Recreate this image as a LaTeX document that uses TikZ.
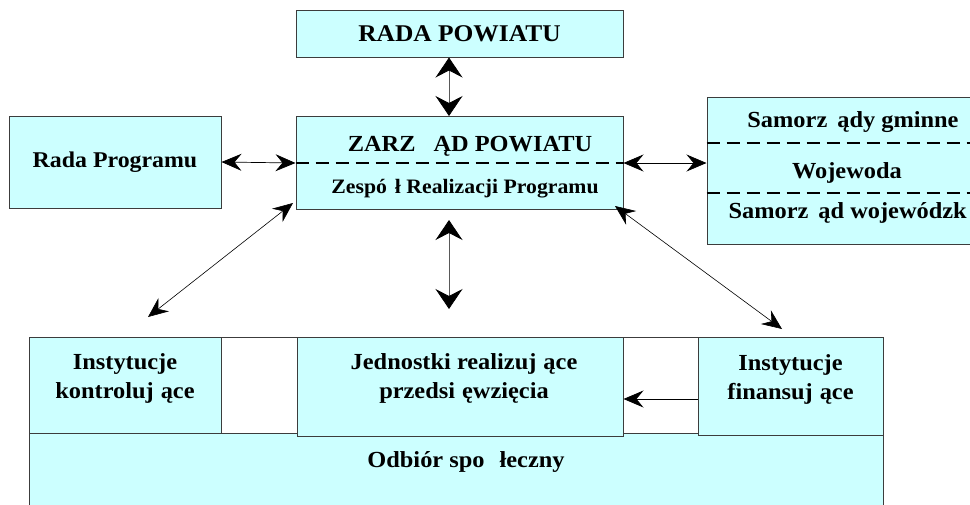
\documentclass[tikz,border=0pt]{standalone}
\usepackage{fontspec}
\setmainfont{Liberation Serif}[FakeStretch=1.06]
\usetikzlibrary{arrows.meta,positioning}
\definecolor{boxcyan}{RGB}{204,255,255}
\definecolor{boxedge}{RGB}{60,60,60}
\tikzset{
  box/.style={draw=boxedge, fill=boxcyan, line width=1pt, inner sep=0pt},
  boxtext/.style={font=\fontsize{23}{29}\selectfont\bfseries, align=center, inner sep=0pt},
  dashline/.style={line width=1.6pt, dash pattern=on 13pt off 7pt},
  arr/.style={line width=0.7pt, {Stealth[length=20pt,width=17pt,inset=7pt]}-{Stealth[length=20pt,width=17pt,inset=7pt]}},
  bigarr/.style={line width=0.8pt, draw=gray!70!black, {Stealth[length=20pt,width=27pt,inset=7pt,color=black]}-{Stealth[length=20pt,width=27pt,inset=7pt,color=black]}}
}
\begin{document}
\begin{tikzpicture}[x=1pt, y=-1pt]
	\clip (0,0) rectangle (970,504);
	% top row
	\node[box, minimum width=327pt, minimum height=47pt](rada) at (459.5,33.5){};
	\node[boxtext, font=\fontsize{24}{29}\selectfont\bfseries] at (rada.center){RADA POWIATU};
	\node[box, minimum width=327pt, minimum height=93pt](zarzad) at (459.5,163){};
	\node[boxtext, anchor=base] at (470,151){ZARZ\hspace{18pt}ĄD POWIATU};
	\node[boxtext, anchor=base, font=\fontsize{20.5}{24}\selectfont\bfseries] at (465,193){Zespó\hspace{8pt}ł Realizacji Programu};
	\draw[dashline](zarzad.west) -- (zarzad.east);
	\node[box, minimum width=212pt, minimum height=92pt](program) at (115,162){};
	\node[boxtext, font=\fontsize{22.5}{29}\selectfont\bfseries] at (program.center){Rada Programu};
	\node[box, minimum width=286pt, minimum height=147pt](samorzady) at (850,170.5){};
	\node[boxtext, anchor=base] at (853,127){Samorz\hspace{10pt}ądy gminne};
	\node[boxtext, anchor=base] at (847,178){Wojewoda};
	\node[boxtext, anchor=base east] at (967,218){Samorz\hspace{10pt}ąd wojewódzk};
	\draw[dashline](samorzady.west |- 0,143) -- (samorzady.east |- 0,143);
	\draw[dashline](samorzady.west |- 0,193) -- (samorzady.east |- 0,193);
	% bottom row
	\node[box, fill=white, minimum width=854pt, minimum height=96pt](frame) at (456,385){};
	\node[box, minimum width=854pt, minimum height=87pt](odbior) at (456,476.5){};
	\node[boxtext, anchor=base] at (466,467){Odbiór spo\hspace{15pt}łeczny};
	\node[box, minimum width=192pt, minimum height=96pt](kontrola) at (125,385){};
	\node[boxtext] at ([yshift=7pt]kontrola.center){Instytucje\\kontroluj\hspace{7pt}ące};
	\node[box, minimum width=326pt, minimum height=99pt](jednostki) at (460,386.5){};
	\node[boxtext] at ([xshift=4pt,yshift=8pt]jednostki.center){Jednostki realizuj\hspace{7pt}ące\\przedsi\hspace{7pt}ęwzięcia};
	\node[box, minimum width=185pt, minimum height=98pt](finanse) at (790.5,386){};
	\node[boxtext] at ([yshift=7pt]finanse.center){Instytucje\\finansuj\hspace{7pt}ące};
	% connectors
	\coordinate(radadown) at ([xshift=-10.5pt]rada.south);
	\coordinate(zarzadup) at ([xshift=-10.5pt]zarzad.north);
	\coordinate(midtop) at (449,220);
	\coordinate(midbottom) at (449,309);
	\coordinate(lefttop) at (293,203);
	\coordinate(leftbottom) at (148,317);
	\coordinate(righttop) at (615,206);
	\coordinate(rightbottom) at (782,329);
	\coordinate(finanseout) at ([yshift=-13pt]finanse.west);
	\draw[bigarr](radadown) -- (zarzadup);
	\draw[arr](program.east) -- (zarzad.west);
	\draw[arr](zarzad.east) -- (samorzady.west |- zarzad.east);
	\draw[bigarr](midtop) -- (midbottom);
	\draw[arr, line width=0.6pt](lefttop) -- (leftbottom);
	\draw[arr, line width=0.6pt](righttop) -- (rightbottom);
	\draw[line width=0.8pt, -{Stealth[length=20pt,width=17pt,inset=7pt]}](finanseout) -- (jednostki.east |- finanseout);
\end{tikzpicture}
\end{document}
